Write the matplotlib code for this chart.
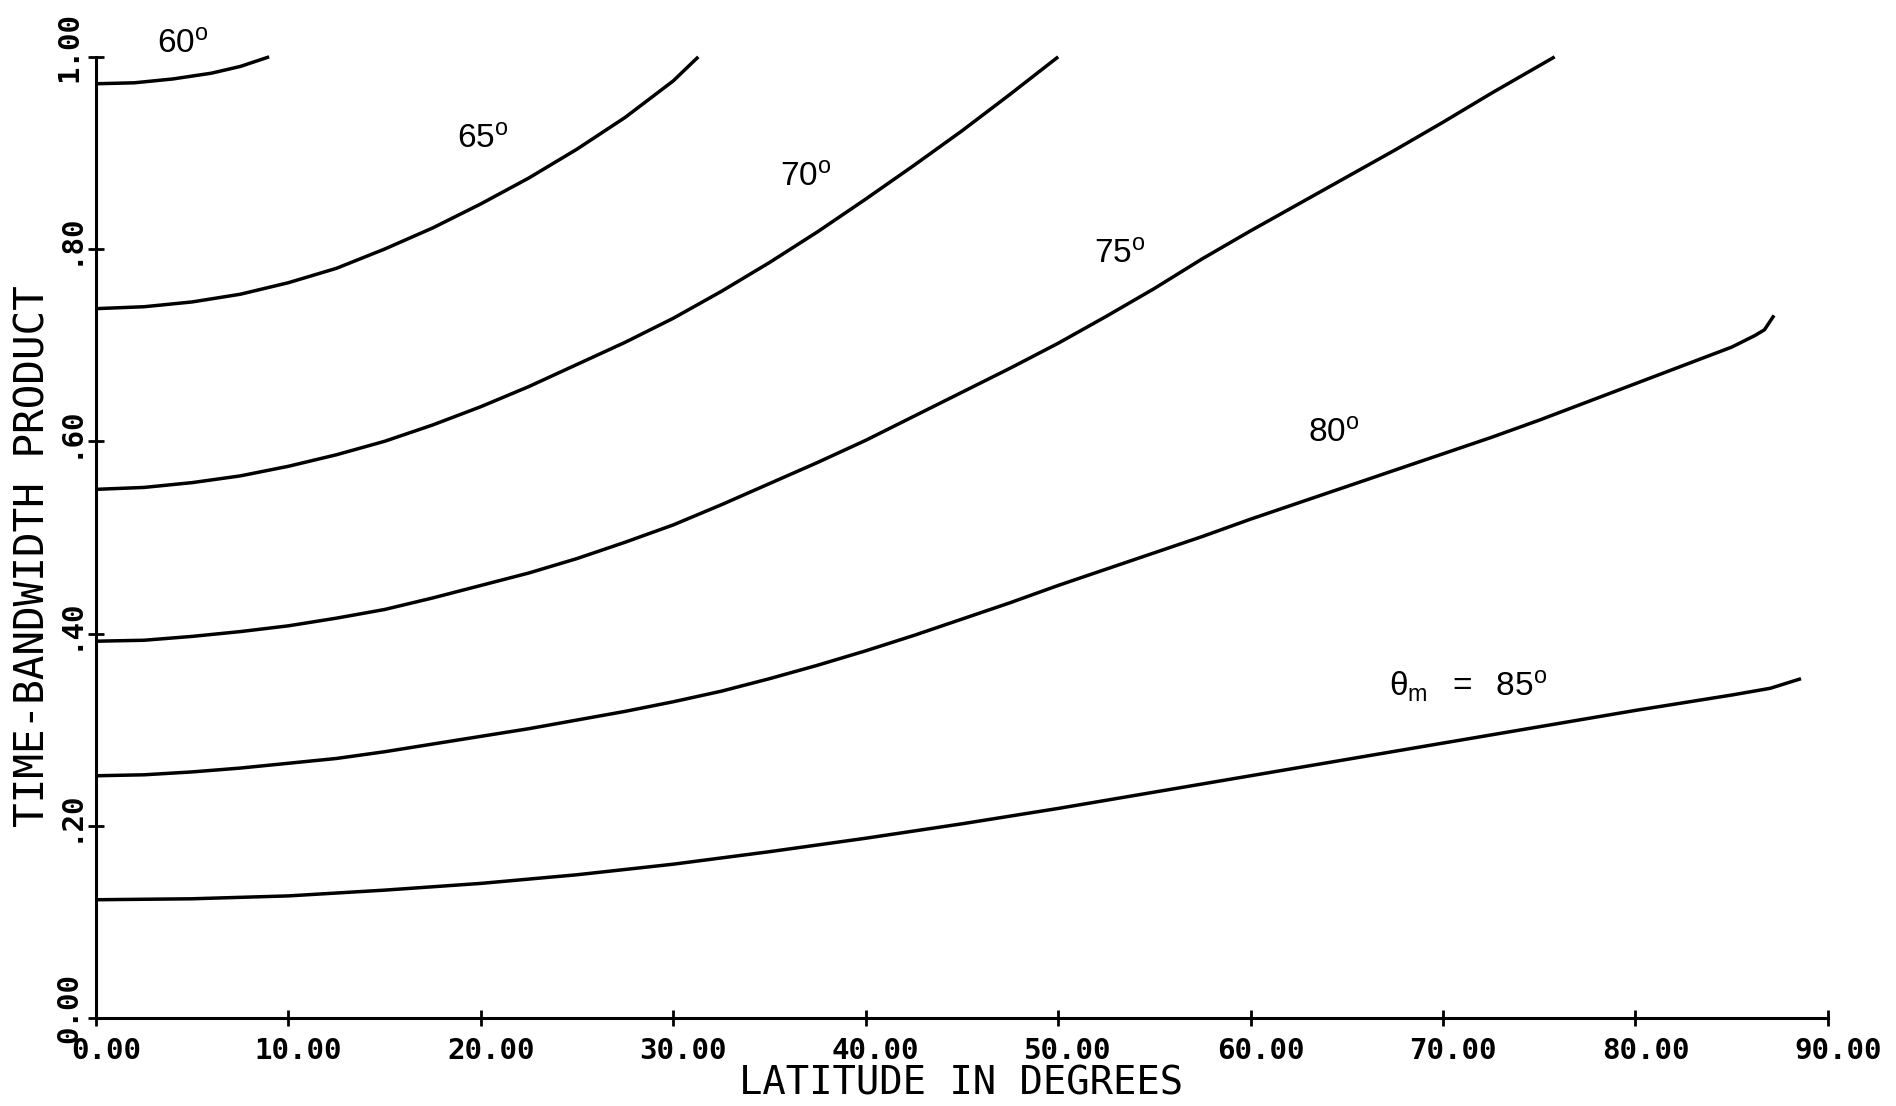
import numpy as np
import matplotlib
matplotlib.use("Agg")
import matplotlib.pyplot as plt
from matplotlib.transforms import ScaledTranslation

# curve values (latitude in degrees -> time-bandwidth product)
lat_60 = [0, 2, 4, 6, 7.5, 9.0]
tbp_60 = [0.972, 0.973, 0.977, 0.983, 0.990, 1.0]

lat_65 = [0, 2.5, 5, 7.5, 10, 12.5, 15, 17.5, 20, 22.5, 25, 27.5, 30, 31.3]
tbp_65 = [0.738, 0.740, 0.745, 0.753, 0.765, 0.780, 0.800, 0.822, 0.847, 0.874,
          0.904, 0.937, 0.975, 1.0]

lat_70 = [0, 2.5, 5, 7.5, 10, 12.5, 15, 17.5, 20, 22.5, 25, 27.5, 30, 32.5, 35,
          37.5, 40, 42.5, 45, 47.5, 50]
tbp_70 = [0.550, 0.552, 0.557, 0.564, 0.574, 0.586, 0.600, 0.617, 0.636, 0.657,
          0.680, 0.703, 0.728, 0.756, 0.786, 0.818, 0.852, 0.887, 0.923, 0.961, 1.0]

lat_75 = [0, 2.5, 5, 7.5, 10, 12.5, 15, 17.5, 20, 22.5, 25, 27.5, 30, 32.5, 35,
          37.5, 40, 42.5, 45, 47.5, 50, 52.5, 55, 57.5, 60, 62.5, 65, 67.5, 70,
          72.5, 75.8]
tbp_75 = [0.392, 0.393, 0.397, 0.402, 0.408, 0.416, 0.425, 0.437, 0.450, 0.463,
          0.478, 0.495, 0.513, 0.534, 0.556, 0.578, 0.601, 0.626, 0.651, 0.676,
          0.702, 0.730, 0.759, 0.790, 0.819, 0.847, 0.875, 0.903, 0.932, 0.962, 1.0]

lat_80 = [0, 2.5, 5, 7.5, 10, 12.5, 15, 17.5, 20, 22.5, 25, 27.5, 30, 32.5, 35,
          37.5, 40, 42.5, 45, 47.5, 50, 52.5, 55, 57.5, 60, 62.5, 65, 67.5, 70,
          72.5, 75, 77.5, 80, 82.5, 85, 86.2, 86.7, 87.2]
tbp_80 = [0.252, 0.253, 0.256, 0.260, 0.265, 0.270, 0.277, 0.285, 0.293, 0.301,
          0.310, 0.319, 0.329, 0.340, 0.353, 0.367, 0.382, 0.398, 0.415, 0.432,
          0.450, 0.467, 0.484, 0.501, 0.519, 0.536, 0.553, 0.570, 0.587, 0.604,
          0.622, 0.641, 0.660, 0.679, 0.698, 0.710, 0.716, 0.731]

lat_85 = [0, 5, 10, 15, 20, 25, 30, 35, 40, 45, 50, 55, 60, 65, 70, 75, 80, 85, 87, 88.6]
tbp_85 = [0.123, 0.124, 0.127, 0.133, 0.140, 0.149, 0.160, 0.173, 0.187, 0.202,
          0.218, 0.235, 0.252, 0.269, 0.286, 0.303, 0.320, 0.336, 0.343, 0.353]

curves = [(lat_60, tbp_60), (lat_65, tbp_65), (lat_70, tbp_70),
          (lat_75, tbp_75), (lat_80, tbp_80), (lat_85, tbp_85)]

# curve labels and where they sit (data coords)
label_text = [r"$60^{\mathrm{o}}$", r"$65^{\mathrm{o}}$", r"$70^{\mathrm{o}}$",
              r"$75^{\mathrm{o}}$", r"$80^{\mathrm{o}}$",
              r"$\mathrm{\theta}_{\mathrm{m}}\ \ =\ \ 85^{\mathrm{o}}$"]
label_x = [4.5, 20.1, 36.9, 53.2, 64.3, 71.3]
label_y = [1.013, 0.914, 0.875, 0.795, 0.609, 0.345]

x_ticks = [0, 10, 20, 30, 40, 50, 60, 70, 80, 90]
x_ticklabels = ["0.00", "10.00", "20.00", "30.00", "40.00", "50.00",
                "60.00", "70.00", "80.00", "90.00"]
y_ticks = [0.0, 0.2, 0.4, 0.6, 0.8, 1.0]
y_ticklabels = ["0.00", ".20", ".40", ".60", ".80", "1.00"]

plt.rcParams["mathtext.fontset"] = "custom"
plt.rcParams["mathtext.rm"] = "Liberation Sans"
plt.rcParams["mathtext.it"] = "Liberation Sans"

fig = plt.figure(figsize=(18.96, 11.06), dpi=100)
ax = fig.add_axes([0.0506, 0.0796, 0.9135, 0.869])

for lat, tbp in curves:
  ax.plot(lat, tbp, color="black", lw=2.5, clip_on=False, solid_capstyle="butt")

for txt, lx, ly in zip(label_text, label_x, label_y):
  ax.text(lx, ly, txt, ha="center", va="center", fontsize=24, color="black", clip_on=False)

ax.set_xlim(0, 90)
ax.set_ylim(0, 1.0)
for side in ["top", "right"]:
  ax.spines[side].set_visible(False)
for side in ["left", "bottom"]:
  ax.spines[side].set_linewidth(2.2)

tick_font = {"family": "DejaVu Sans Mono", "weight": "bold", "size": 21}
ax.set_xticks(x_ticks)
ax.set_xticklabels(x_ticklabels, fontdict=tick_font)
ax.set_yticks(y_ticks)
ax.set_yticklabels(y_ticklabels, fontdict=tick_font, rotation=90, va="center")
ax.tick_params(direction="inout", length=12, width=2.0)
ax.tick_params(axis="x", pad=8)
ax.tick_params(axis="y", pad=3)

# the plotter put its tick numbers a little right of / above the ticks
shift_x = ScaledTranslation(10 / 100, 0, fig.dpi_scale_trans)
for lab in ax.get_xticklabels():
  lab.set_transform(lab.get_transform() + shift_x)
shift_y = ScaledTranslation(0, 10 / 100, fig.dpi_scale_trans)
for lab in ax.get_yticklabels():
  lab.set_transform(lab.get_transform() + shift_y)

fig.text(0.507, 0.0199, "LATITUDE IN DEGREES", ha="center", va="center",
         family="DejaVu Sans Mono", size=28)
fig.text(0.0179, 0.497, "TIME-BANDWIDTH PRODUCT", ha="center", va="center",
         rotation=90, family="DejaVu Sans Mono", size=29.5)

fig.savefig("out.png", dpi=100)
